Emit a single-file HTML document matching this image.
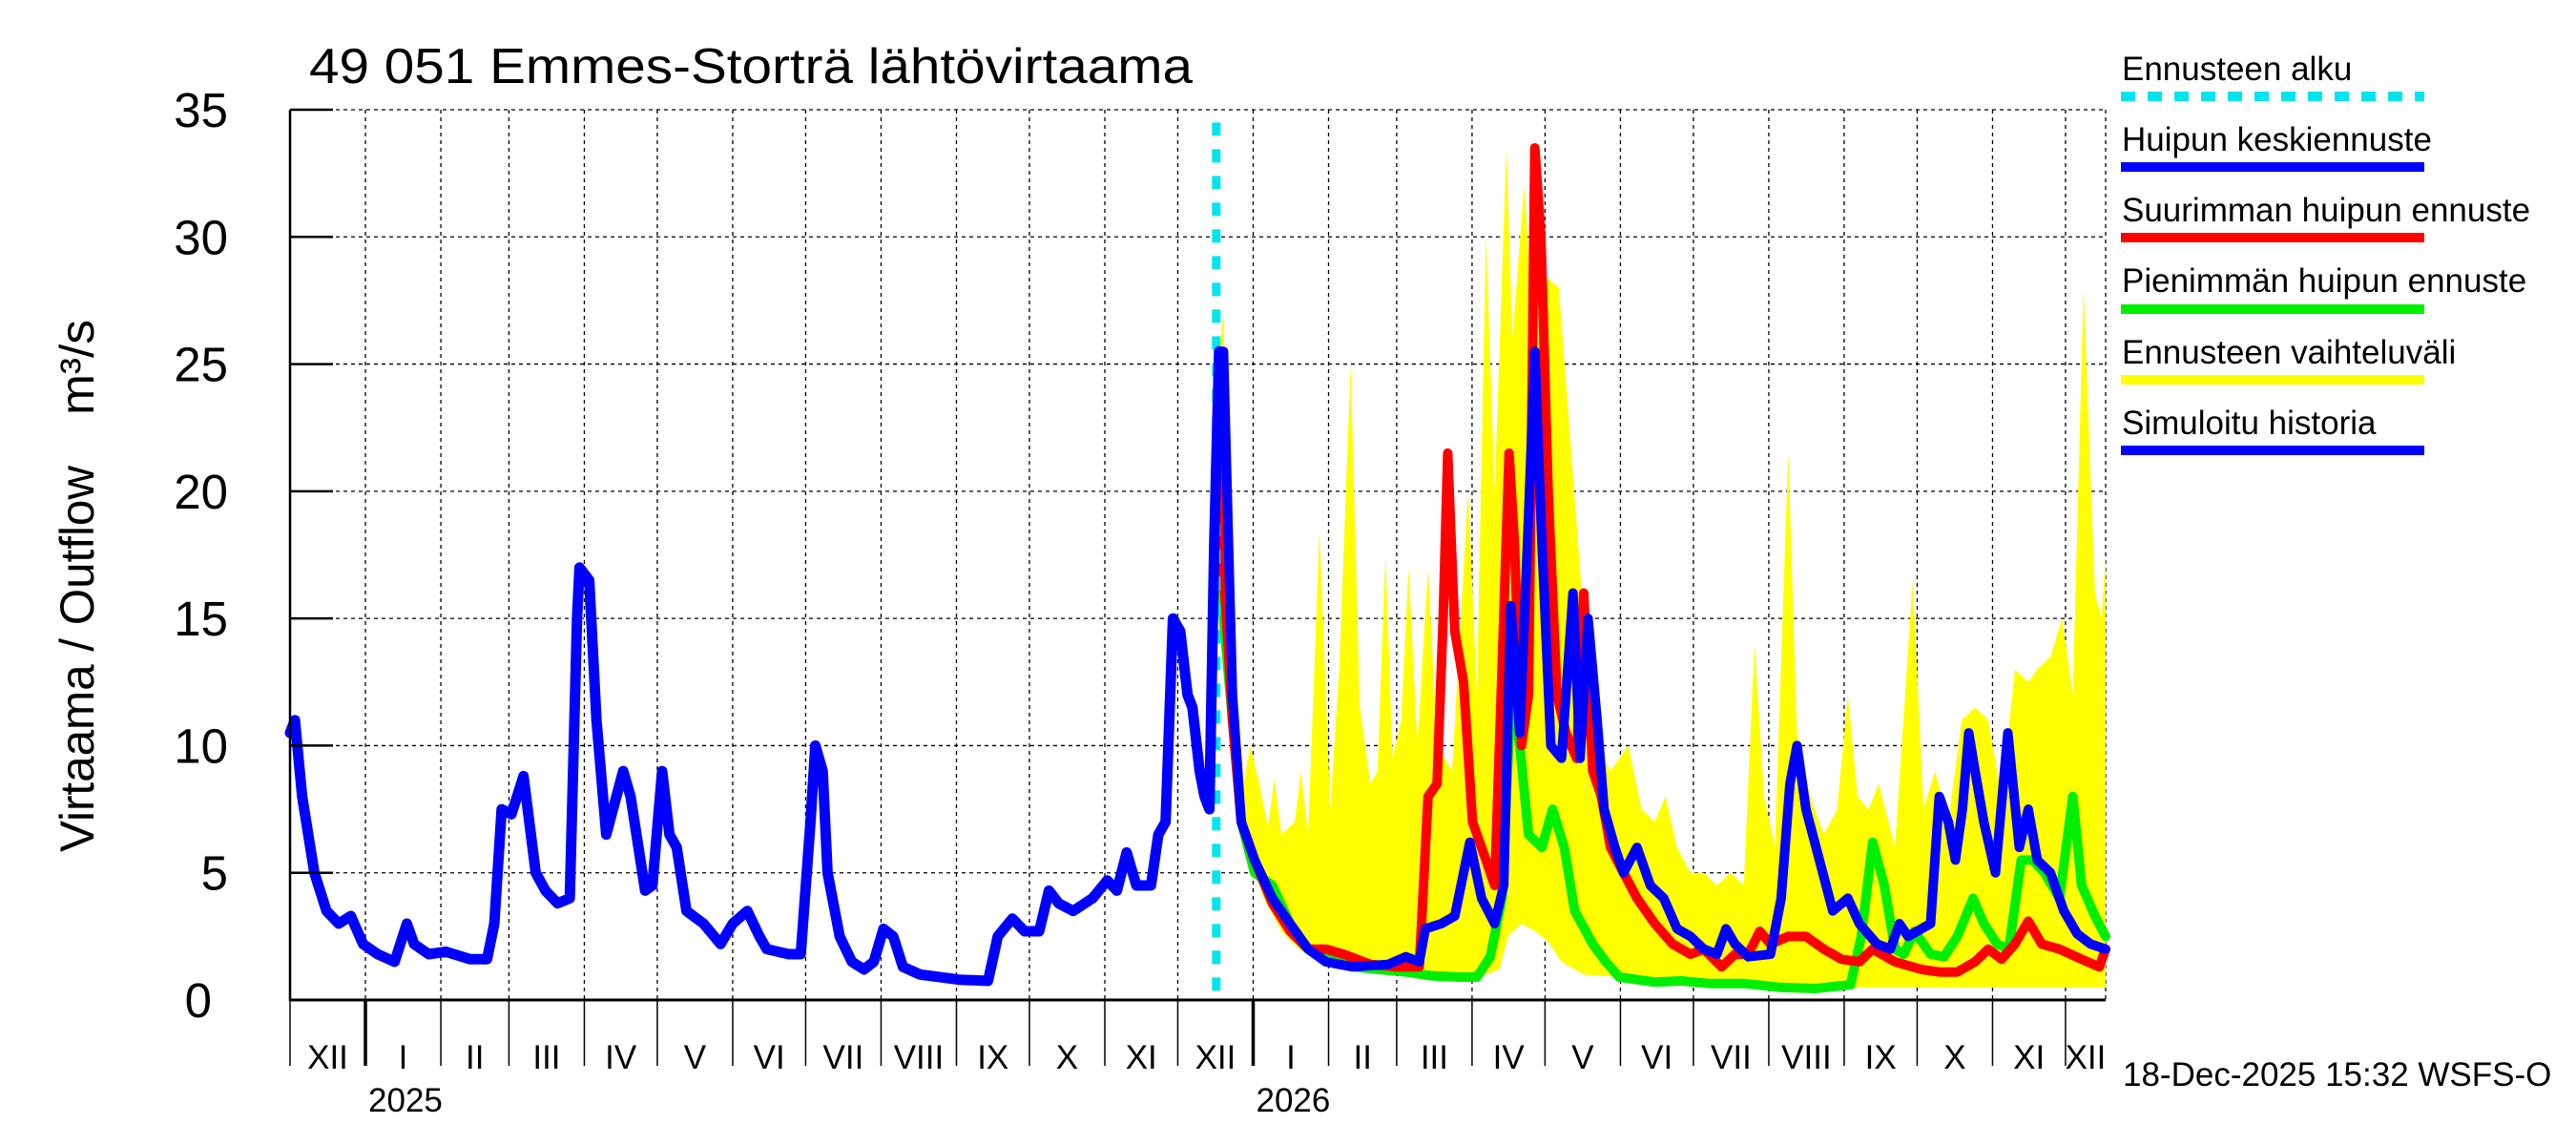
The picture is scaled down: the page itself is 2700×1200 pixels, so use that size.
<!DOCTYPE html>
<html><head><meta charset="utf-8"><style>
html,body{margin:0;padding:0;background:#fff;}
svg{display:block;font-family:"Liberation Sans",sans-serif;}
</style></head><body>
<svg id="chart" width="2700" height="1200" viewBox="0 0 2700 1200" xmlns="http://www.w3.org/2000/svg">
<rect width="2700" height="1200" fill="#fff"/>
<text x="324" y="87" font-size="52" textLength="926" lengthAdjust="spacingAndGlyphs">49 051 Emmes-Storträ lähtövirtaama</text>
<text transform="translate(98,893) rotate(-90)" font-size="50" textLength="405" lengthAdjust="spacingAndGlyphs">Virtaama / Outflow</text>
<text transform="translate(98,435) rotate(-90)" font-size="50" textLength="100" lengthAdjust="spacingAndGlyphs">m³/s</text>
<g id="grid"></g><g id="band"></g><g id="series"></g><g id="axes"></g><g id="legend"></g>
<text x="2225" y="1138" font-size="35">18-Dec-2025 15:32 WSFS-O</text>
</svg>
<script>
// ---- data ----
const yTicks=[0,5,10,15,20,25,30,35];
const monthStarts=[0,31,62,90,121,151,182,212,243,274,304,335,365,396,427,455,486,516,547,577,608,639,669,700,730];
const monthLabels=["XII","I","II","III","IV","V","VI","VII","VIII","IX","X","XI","XII","I","II","III","IV","V","VI","VII","VIII","IX","X","XI","XII"];
const yearLabels=["2025","2026"];
const yearStartIdx=[1,13];
const forecastStartDay=382;
const endDay=746.5;
// simulated history: days since 1 Dec 2024
const histDays=[0,2,5,10,15,20,25,30,36,43,48,51,57,64,74,81,84,87,91,96,101,105,110,115,118,119,123,126,130,137,140,146,149,153,156,159,163,170,177,182,188,193,196,205,210,214,216,219,221,226,231,236,240,244,248,252,259,275,287,291,297,302,308,312,316,322,330,336,340,344,348,354,357,360,363,366,369,371,374,376,378,380,382];
const histValues=[10.5,11,8,5,3.5,3,3.3,2.2,1.8,1.5,3,2.2,1.8,1.9,1.6,1.6,3,7.5,7.3,8.8,5,4.3,3.8,4,15,17,16.5,11,6.5,9,8,4.3,4.5,9,6.5,6,3.5,3,2.2,3,3.5,2.5,2,1.8,1.8,7,10,9,5,2.5,1.5,1.2,1.5,2.8,2.5,1.3,1,0.8,0.75,2.5,3.2,2.7,2.7,4.3,3.8,3.5,4,4.7,4.3,5.8,4.5,4.5,6.5,7,15,14.5,12,11.5,9,8,7.5,18,25.5];
// forecasts: days since forecast start
const meanDays=[0,1.8,5.5,9.1,14.6,21.9,29.2,36.6,43.9,54.8,69.5,76.8,82.3,84.8,91.4,96.9,103.1,107.9,113.3,117,119.9,123.6,127.2,129.8,132.7,136.4,140.8,145.5,148.4,151.7,155.4,158.3,162.7,166.3,171.8,177.3,182.8,188.3,193.8,199.3,204.7,208.4,212.1,217.5,226.7,231.1,234.7,237.6,241.3,246.8,252.3,258.5,263.2,270.5,276,279.7,283.3,288.8,292.5,296.1,299.8,302.7,305.6,308.2,310.8,314.4,319.2,324.3,329,332.7,336.4,341.8,347.3,352.8,358.3,364.5];
const meanValues=[25.5,25.5,12,7,5.5,4,3,2,1.5,1.3,1.4,1.7,1.5,2.8,3,3.3,6.2,4,3,4.5,15.5,10.5,19,25.5,18,10,9.5,16,9.5,15,11,7.5,6,5,6,4.5,4,2.8,2.5,2,1.8,2.8,2.2,1.7,1.8,4,8.5,10,7.5,5.5,3.5,4,3,2.2,2,3,2.5,2.8,3,8,7,5.5,7.5,10.5,9,7,5,10.5,6,7.5,5.5,5,3.5,2.6,2.2,2];
const maxDays=[0,1.8,5.5,9.1,14.6,21.9,29.2,36.6,43.9,51.2,62.2,73.1,82.3,85.9,89.6,92.1,94,96.9,100.5,104.2,109.7,113.3,116.3,119.2,121.4,124.3,127.2,129.8,132.3,135.3,138.9,142.6,147,149.9,153.6,157.2,160.9,166.3,171.8,179.1,186.5,193.8,199.3,206.6,212.1,217.5,222.3,226.7,234,241.3,248.6,255.9,263.2,268.7,277.9,288.8,296.1,303.5,310.8,316.2,321.7,327.2,332.7,338.2,345.5,354.6,361.9,364.5];
const maxValues=[25.5,17,11,7,5.5,3.8,2.7,2,2,1.8,1.4,1.3,1.3,8,8.5,15,21.5,14.5,12.5,7,5.5,4.5,13,21.5,18,10,12,33.5,30,20,12,10.5,9.5,16,9,8,6,5,4,3,2.2,1.8,2,1.3,1.8,1.8,2.7,2.2,2.5,2.5,2,1.6,1.5,2,1.5,1.2,1.1,1.1,1.5,2,1.6,2.2,3.1,2.2,2,1.6,1.3,2];
const minDays=[0,1.8,5.5,9.1,14.6,21.9,29.2,36.6,43.9,54.8,65.8,76.8,87.7,98.7,106,111.5,116.3,119.9,123.6,127.2,132.7,137.1,141.9,146.2,153.6,159,164.5,179.1,190.1,201.1,215.7,230.3,245,259.6,264,268.7,273.5,277.9,281.5,285.9,292.5,298,303.5,310,314.4,319.9,324.7,329.8,334.5,339.3,345.5,351,354.6,360.1,364.5];
const minValues=[25.5,15,11,7,5,4.5,3,2,1.7,1.3,1.2,1.1,0.95,0.9,0.9,1.7,4,12,10,6.5,6,7.5,6,3.5,2.2,1.5,0.9,0.7,0.75,0.65,0.65,0.5,0.45,0.6,2.5,6.2,4.5,2,1.8,2.7,1.8,1.7,2.5,4,3,2.2,2,5.5,5.5,5,4,8,4.5,3.3,2.5];
const bandUpperDays=[0,1.8,5.5,9.1,12.8,16.5,20.1,22.7,25.6,31.1,33.6,36.6,41.3,45.7,49.4,54.1,57.8,62.2,65.1,68.4,71.3,74.9,77.9,81.5,85.9,89.6,95.8,102.4,106,109.7,113.3,118.1,120.6,125.4,129.1,133.4,139.7,144.4,149.9,155.4,160.9,168.2,173.7,179.1,183.5,188.3,193.8,199.3,204.7,210.2,215.7,220.1,224.1,228.5,234,237.6,243.1,248.6,254.1,258.5,262.5,266.9,271.3,277.9,285.2,289.6,294.3,299.8,305.3,310.8,316.2,321.7,327.2,332.7,336.4,341.8,346.6,351,355.4,360.1,362.8,364.5];
const bandUpperValues=[25.5,27,12,8,10,8.5,6.8,8.7,6.5,7,9,6.5,18.5,7.5,13,25,11.5,8.5,9,17.5,9.5,11,17,10,17,10,9,20,12,30,20,33.5,26,32,26.5,28.5,28,22,15,10,9,10,7.5,7,8,6,5,5,4.5,5,4.5,14,8,6,21.5,10.5,8,6.5,7.5,12,8,7.5,8.5,6,16.5,7.5,9,7,11,11.5,11,8,13,12.5,13,13.5,15,12,28,16,15,17.5];
const bandLowerDays=[0,1.8,5.5,11,18.3,25.6,32.9,43.9,62.2,80.4,98.7,109.7,115.2,118.8,124.3,129.8,135.3,140.8,149.9,164.5,186.5,208.4,245,263.2,281.5,318.1,354.6,364.5];
const bandLowerValues=[25.5,13,9,6,4,2.7,2,1.5,1.1,1,0.9,1,1.2,2.5,3,2.7,2.3,1.5,1,0.9,0.7,0.6,0.4,0.5,0.5,0.5,0.5,0.5];

// ---- scales ----
const X0=304,X1=2207,Y0=1048,Y1=115;
const xOf=d=>X0+(d/endDay)*(X1-X0);
const yOf=v=>Y0-(v/35)*(Y0-Y1);
const NS="http://www.w3.org/2000/svg";
function mk(tag,parent,attrs){const e=document.createElementNS(NS,tag);for(const k in attrs)e.setAttribute(k,attrs[k]);parent.appendChild(e);return e;}
const grid=document.getElementById('grid'),band=document.getElementById('band'),ser=document.getElementById('series'),axes=document.getElementById('axes'),leg=document.getElementById('legend');

yTicks.forEach(t=>{
  if(t===0)return;
  const l=mk('line',grid,{x1:X0,x2:X1,y1:yOf(t),y2:yOf(t),stroke:'#000','stroke-width':1.3,'stroke-dasharray':'4,4'});
  
  
});
monthStarts.forEach((d,i)=>{
  if(i===0)return;
  const l=mk('line',grid,{x1:xOf(d),x2:xOf(d),y1:Y1,y2:Y0,stroke:'#000','stroke-width':1.3,'stroke-dasharray':'4,4'});
  
  
});
const rb=mk('line',grid,{x1:X1,x2:X1,y1:Y1,y2:Y0,stroke:'#000','stroke-width':1.3,'stroke-dasharray':'4,4'});



function pts(days,vals,off){return days.map((d,i)=>xOf(d+off).toFixed(1)+','+yOf(vals[i]).toFixed(1));}
const up=pts(bandUpperDays,bandUpperValues,forecastStartDay);
const lo=pts(bandLowerDays,bandLowerValues,forecastStartDay).reverse();
const bp=mk('polygon',band,{points:up.concat(lo).join(' '),fill:'#ffff00'});



function line(days,vals,off,color,w,name){
  const p=mk('polyline',ser,{points:pts(days,vals,off).join(' '),fill:'none',stroke:color,'stroke-width':w,'stroke-linejoin':'round','stroke-linecap':'round'});
  
  
}
line(minDays,minValues,forecastStartDay,'#00ee00',10,'min-peak-forecast-line');
line(maxDays,maxValues,forecastStartDay,'#ff0000',10,'max-peak-forecast-line');
line(meanDays,meanValues,forecastStartDay,'#0000ff',10,'mean-peak-forecast-line');
const fs=mk('line',ser,{x1:xOf(forecastStartDay)-3,x2:xOf(forecastStartDay)-3,y1:yOf(34.5),y2:Y0,stroke:'#00e5ee','stroke-width':9,'stroke-dasharray':'14,14'});


line(histDays,histValues,0,'#0000ff',11,'simulated-history-line');

const ax1=mk('line',axes,{x1:X0,x2:X0,y1:Y1,y2:Y0+1,stroke:'#000','stroke-width':2.5});


const ax2=mk('line',axes,{x1:X0,x2:X1,y1:Y0,y2:Y0,stroke:'#000','stroke-width':3});


yTicks.forEach(t=>{
  const tk=mk('line',axes,{x1:X0,x2:X0+45,y1:yOf(t),y2:yOf(t),stroke:'#000','stroke-width':2.5});
  
  
  const tx=mk('text',axes,{x:t===0?222:239,y:yOf(t)+18,'text-anchor':'end','font-size':51});
  tx.textContent=t;
  
  
});
monthStarts.forEach((d,i)=>{
  const isYear=yearStartIdx.includes(i);
  if(i>0){
    const tk=mk('line',axes,{x1:xOf(d),x2:xOf(d),y1:Y0,y2:1117,stroke:'#000','stroke-width':isYear?3.5:1.5});
    
    
  }
  const e=i+1<monthStarts.length?monthStarts[i+1]:endDay;
  const tx=mk('text',axes,{x:xOf((d+e)/2),y:1120,'text-anchor':'middle','font-size':35});
  tx.textContent=monthLabels[i];
  
  
});
const t0=mk('line',axes,{x1:X0,x2:X0,y1:Y0,y2:1117,stroke:'#000','stroke-width':1.5});


yearStartIdx.forEach((mi,i)=>{
  const tx=mk('text',axes,{x:xOf(monthStarts[mi])+3,y:1165,'font-size':35});
  tx.textContent=yearLabels[i];
  
  
});

const legLabels=["Ennusteen alku","Huipun keskiennuste","Suurimman huipun ennuste","Pienimmän huipun ennuste","Ennusteen vaihteluväli","Simuloitu historia"];
const legColors=["#00e5ee","#0000ff","#ff0000","#00ee00","#ffff00","#0000ff"];
const legTextY=[84,158,232,306,381,455];
const legLineY=[101,175,249,324,398,472];
legLabels.forEach((s,i)=>{
  const tx=mk('text',leg,{x:2224,y:legTextY[i],'font-size':35});
  tx.textContent=s;
  
  
  const a={x1:2223,x2:2541,y1:legLineY[i],y2:legLineY[i],stroke:legColors[i],'stroke-width':10};
  if(i===0)a['stroke-dasharray']='15,13';
  const l=mk('line',leg,a);
  
  
});
</script>
</body></html>
